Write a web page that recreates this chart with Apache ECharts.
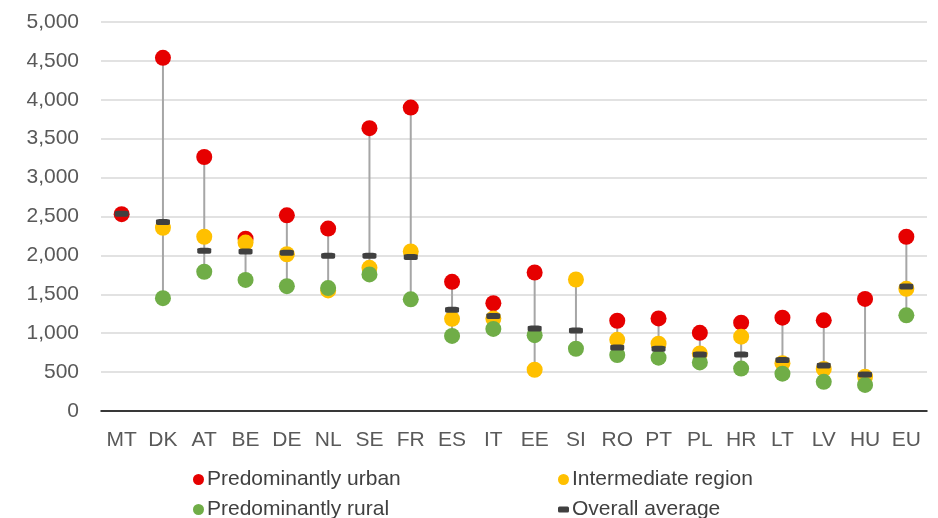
<!DOCTYPE html>
<html>
<head>
<meta charset="utf-8">
<script src="https://cdn.jsdelivr.net/npm/echarts@6/dist/echarts.min.js"></script>
<style>
  html, body { margin: 0; padding: 0; background: #fff; }
  #chart { width: 938px; height: 518px; }
</style>
</head>
<body>
<div id="chart"></div>
<script>
var countries = ["MT", "DK", "AT", "BE", "DE", "NL", "SE", "FR", "ES", "IT", "EE", "SI", "RO", "PT", "PL", "HR", "LT", "LV", "HU", "EU"];
var urban        = [2530, 4540, 3265, 2215, 2515, 2345, 3635, 3900, 1660, 1385, 1780, null, 1160, 1190, 1005, 1135, 1200, 1165, 1440, 2240];
var intermediate = [null, 2355, 2240, 2165, 2015, 1550, 1840, 2050, 1185, 1190, 530, 1690, 915, 865, 740, 955, 615, 540, 440, 1570];
var rural        = [null, 1450, 1790, 1685, 1605, 1580, 1755, 1435, 965, 1055, 975, 800, 720, 685, 625, 545, 480, 375, 335, 1230];
var average      = [2535, 2430, 2060, 2050, 2035, 1995, 1995, 1980, 1300, 1220, 1060, 1035, 815, 800, 725, 725, 655, 585, 470, 1600];
var yTicks = [0, 500, 1000, 1500, 2000, 2500, 3000, 3500, 4000, 4500, 5000];

var font = "'Liberation Sans', sans-serif";

// min-max range of the three region types, for the grey connector
var ranges = [];
for (var i = 0; i < countries.length; i++) {
    var vals = [urban[i], intermediate[i], rural[i]].filter(function (v) { return v != null; });
    ranges.push([i, Math.min.apply(null, vals), Math.max.apply(null, vals)]);
}

var chart = echarts.init(document.getElementById("chart"));

var legendBase = {
    orient: "horizontal",
    itemWidth: 11,
    itemHeight: 11,
    itemGap: 4,
    padding: [2, 5, 2, 5],
    textStyle: { fontFamily: font, fontSize: 21, color: "#404040", padding: [0, 0, 0, -2] }
};

var option = {
    backgroundColor: "#fff",
    animation: false,
    grid: { left: 101, right: 11, top: 22, bottom: 107 },
    legend: [
        Object.assign({}, legendBase, { data: [{ name: "Predominantly urban", icon: "circle" }], left: 188, top: 467 }),
        Object.assign({}, legendBase, { data: [{ name: "Intermediate region", icon: "circle" }], left: 553, top: 467 }),
        Object.assign({}, legendBase, { data: [{ name: "Predominantly rural", icon: "circle" }], left: 188, top: 497 }),
        Object.assign({}, legendBase, { data: [{ name: "Overall average", icon: "roundRect" }], left: 553, top: 497, itemWidth: 11, itemHeight: 6 })
    ],
    xAxis: {
        type: "category",
        data: countries,
        boundaryGap: true,
        axisLine: { lineStyle: { color: "#000", width: 1.5 } },
        axisTick: { show: false },
        axisLabel: { fontFamily: font, fontSize: 21, color: "#595959", margin: 19 }
    },
    yAxis: {
        type: "value",
        min: 0,
        max: 5000,
        interval: 500,
        axisLine: { show: false },
        axisTick: { show: false },
        splitLine: { lineStyle: { color: "#d9d9d9", width: 1.5 } },
        axisLabel: {
            fontFamily: font, fontSize: 21, color: "#595959", margin: 22,
            formatter: function (v) { return yTicks.indexOf(v) >= 0 ? v.toLocaleString("en-US") : ""; }
        }
    },
    series: [
        {
            type: "custom",
            name: "range",
            data: ranges,
            silent: true,
            z: 1,
            renderItem: function (params, api) {
                var a = api.coord([api.value(0), api.value(1)]);
                var b = api.coord([api.value(0), api.value(2)]);
                return {
                    type: "line",
                    shape: { x1: a[0], y1: a[1], x2: b[0], y2: b[1] },
                    style: { stroke: "#a6a6a6", lineWidth: 2 }
                };
            }
        },
        {
            type: "scatter", name: "Predominantly urban", data: urban,
            symbol: "circle", symbolSize: 16, z: 2,
            itemStyle: { color: "#e60000", opacity: 1 }
        },
        {
            type: "scatter", name: "Intermediate region", data: intermediate,
            symbol: "circle", symbolSize: 16, z: 3,
            itemStyle: { color: "#ffc000", opacity: 1 }
        },
        {
            type: "scatter", name: "Predominantly rural", data: rural,
            symbol: "circle", symbolSize: 16, z: 4,
            itemStyle: { color: "#70ad47", opacity: 1 }
        },
        {
            type: "scatter", name: "Overall average", data: average,
            symbol: "roundRect", symbolSize: [14, 6], z: 5,
            itemStyle: { color: "#404040", opacity: 1 }
        }
    ]
};

chart.setOption(option);
</script>
</body>
</html>
